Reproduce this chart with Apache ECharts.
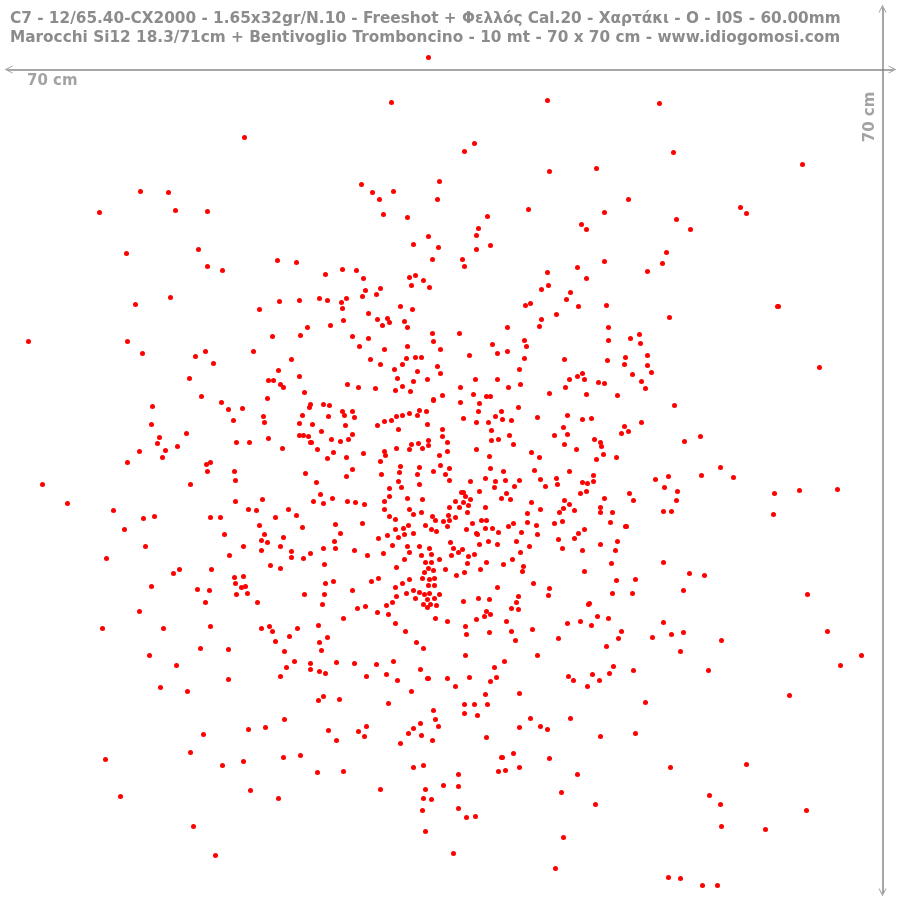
<!DOCTYPE html>
<html><head><meta charset="utf-8">
<style>html,body{margin:0;padding:0;background:#fff}#c{width:900px;height:900px}</style>
<script src="https://cdn.jsdelivr.net/npm/echarts@6/dist/echarts.min.js"></script>
</head><body><div id="c"></div>
<script>
const titleLine1 = "C7 - 12/65.40-CX2000 - 1.65x32gr/N.10 - Freeshot + Φελλός Cal.20 - Χαρτάκι - O - I0S - 60.00mm";
const titleLine2 = "Marocchi Si12 18.3/71cm + Bentivoglio Tromboncino - 10 mt - 70 x 70 cm - www.idiogomosi.com";
const widthLabel = "70 cm";
const heightLabel = "70 cm";
const shotsTop = [[428,57],[244,137],[391,102],[547,100],[659,103],[474,143],[464,151],[673,152],[802,164],[549,171],[596,168]];
const shotsUpperLeft = [[140,191],[168,192],[99,212],[175,210],[207,211],[126,253],[198,249],[207,266],[222,270],[277,260],[296,262],[170,297],[135,304],[259,309],[279,301],[299,300],[272,336],[300,335],[28,341],[127,341],[142,353],[205,351],[195,356],[253,351],[213,363],[291,359],[278,370],[189,378],[268,380],[273,380],[280,384],[283,387],[299,376],[201,396],[267,398]];
const shotsUpperCentre = [[439,181],[361,184],[372,192],[393,191],[379,199],[437,199],[383,214],[407,217],[487,216],[528,209],[581,224],[586,229],[478,228],[476,235],[428,236],[413,244],[438,247],[490,245],[476,249],[432,259],[462,259],[464,266],[325,274],[342,269],[356,270],[363,278],[409,277],[415,275],[423,280],[411,285],[429,287],[380,288],[365,290],[376,294],[362,296],[577,267],[586,278],[547,272],[548,285],[541,289],[570,292],[566,299],[530,303],[525,305],[578,306],[319,298],[327,300],[346,298],[341,302],[342,308],[400,306],[412,309],[368,313],[377,319],[387,318],[389,322],[382,325],[404,321],[407,327],[343,320],[330,325],[307,327],[556,314],[541,319],[539,326],[507,327],[432,333],[459,333],[433,341],[352,336],[368,338],[359,346],[407,346],[384,349],[440,349],[492,344],[524,340],[526,346],[497,353],[507,351],[524,358],[469,355],[370,359],[406,358],[415,357],[421,357],[380,364],[402,364],[394,369],[417,371],[437,366],[440,373],[564,359],[519,369],[397,378],[413,381],[427,379],[475,379],[497,379],[569,379],[577,376],[582,373],[584,379],[598,382],[347,384],[358,387],[375,388],[402,386],[395,390],[410,391],[460,387],[508,387],[520,384],[565,387],[304,392],[442,395],[473,394],[486,396],[490,396],[549,393],[586,394],[433,399]];
const shotsUpperRight = [[628,199],[604,212],[740,207],[746,213],[676,219],[690,229],[666,252],[662,263],[604,261],[647,271],[606,305],[777,306],[778,306],[669,317],[608,327],[608,340],[639,334],[630,338],[640,343],[647,355],[625,357],[607,360],[624,364],[647,365],[651,372],[632,374],[819,367],[641,381],[645,388],[604,383],[617,395]];
const shotsMiddleLeft = [[152,406],[221,402],[228,409],[242,408],[263,416],[264,422],[233,420],[299,423],[151,424],[186,433],[159,437],[157,443],[177,446],[165,450],[139,451],[162,457],[127,462],[236,442],[249,442],[268,438],[282,448],[299,435],[210,462],[206,464],[207,471],[234,471],[235,480],[190,484],[42,484],[67,503],[235,501],[262,499],[248,509],[256,510],[288,509],[296,515],[275,517],[113,510],[143,518],[154,516],[210,517],[220,517],[124,529],[259,525],[224,534],[264,534],[283,537],[261,540],[267,542],[145,546],[243,546],[280,546],[261,550],[291,551],[291,557],[106,558],[229,555],[270,565],[280,568],[179,569],[173,573],[211,569],[243,576],[234,577],[235,583],[241,587],[245,586],[151,586],[197,589],[209,590],[236,594],[247,593],[205,602],[257,602],[139,611],[102,628],[163,628],[210,626],[261,628],[269,626],[272,631],[297,628],[289,636],[275,641],[200,648],[228,649],[284,651],[149,655],[294,661],[176,665],[286,667],[280,676],[228,679],[160,687],[187,691]];
const shotsMiddleCentreLeft = [[310,404],[309,407],[323,404],[329,405],[342,411],[344,415],[352,411],[354,417],[302,415],[328,416],[312,424],[345,425],[321,431],[352,434],[348,439],[340,441],[331,439],[308,436],[303,435],[310,442],[311,442],[317,449],[333,452],[327,458],[346,457],[363,453],[352,469],[305,473],[346,476],[316,482],[320,494],[332,498],[313,501],[323,503],[347,501],[355,502],[364,504],[302,527],[335,524],[362,523],[340,533],[334,541],[335,548],[323,548],[354,550],[310,553],[303,558],[367,555],[324,564],[333,581],[325,583],[304,594],[324,594],[352,590],[322,604],[365,606],[357,608],[377,612],[343,618],[318,625],[327,637],[319,642],[321,650],[310,663],[310,669],[319,671],[325,673],[336,662],[354,663],[376,664],[393,661],[366,676],[386,674],[397,680],[420,669],[427,678],[428,678],[447,678],[411,691],[323,696],[339,699],[318,700]];
const shotsMiddleCentre = [[377,425],[384,421],[391,420],[396,416],[402,415],[409,413],[417,415],[419,410],[426,411],[427,424],[398,429],[442,429],[442,436],[428,440],[428,445],[418,443],[411,444],[409,449],[422,448],[396,448],[447,442],[447,451],[439,455],[384,451],[385,455],[380,461],[400,466],[399,472],[381,474],[419,467],[417,474],[433,471],[440,465],[449,468],[445,474],[449,480],[398,481],[419,484],[401,487],[389,488],[389,496],[384,501],[407,498],[422,499],[384,509],[409,509],[413,514],[421,512],[389,516],[395,519],[432,516],[435,520],[448,515],[449,507],[459,507],[455,501],[463,502],[468,505],[467,512],[470,499],[465,496],[461,492],[463,492],[449,520],[455,517],[443,521],[447,526],[425,525],[408,525],[403,528],[395,529],[431,529],[436,531],[413,533],[404,534],[398,537],[387,535],[378,538],[392,545],[407,546],[419,546],[429,548],[409,552],[383,553],[421,555],[431,554],[404,559],[439,559],[425,562],[431,562],[396,567],[428,568],[433,570],[424,572],[445,569],[422,578],[429,579],[434,578],[409,579],[402,583],[378,578],[371,581],[395,587],[428,585],[434,585],[413,590],[419,592],[406,593],[424,594],[429,593],[439,594],[396,596],[415,598],[427,599],[434,598],[392,602],[386,605],[423,604],[430,604],[436,605],[427,607],[388,614],[435,618],[447,621],[395,623],[405,631],[416,642],[423,648]];
const shotsMiddleCentreRight = [[433,400],[460,402],[479,403],[463,418],[476,422],[478,411],[488,422],[495,416],[501,411],[502,419],[511,420],[518,407],[537,417],[567,415],[582,419],[591,418],[563,427],[567,434],[554,435],[594,439],[564,444],[600,442],[576,449],[491,430],[491,440],[498,439],[509,435],[513,444],[476,449],[531,452],[539,457],[489,456],[596,459],[490,468],[503,471],[534,470],[569,471],[485,478],[495,481],[505,480],[519,480],[470,481],[540,479],[556,478],[593,475],[593,481],[582,482],[587,483],[557,484],[514,486],[494,487],[545,486],[479,491],[586,491],[580,493],[506,493],[501,498],[510,499],[531,502],[564,500],[569,504],[485,507],[540,509],[563,508],[574,510],[559,512],[600,507],[600,512],[527,513],[481,520],[486,520],[527,522],[562,521],[554,523],[472,523],[513,523],[508,526],[536,525],[485,528],[492,528],[466,529],[584,529],[521,532],[498,532],[578,533],[537,534],[476,533],[477,534],[574,538],[558,539],[516,541],[488,541],[450,542],[479,544],[497,544],[529,546],[562,548],[600,544],[582,550],[453,548],[462,549],[458,552],[520,552],[474,554],[468,556],[451,555],[512,559],[467,563],[486,562],[503,564],[523,566],[522,571],[480,569],[464,572],[456,575],[584,571],[533,583],[497,587],[549,588],[548,595],[518,596],[463,601],[478,598],[489,599],[516,602],[589,603],[588,604],[511,608],[518,609],[486,611],[490,614],[484,616],[476,619],[506,621],[567,623],[580,621],[591,625],[597,616],[465,626],[466,634],[489,632],[511,631],[532,629],[515,640],[558,638],[465,655],[537,655],[504,661],[494,667],[469,677],[496,677],[490,681],[455,686],[568,676],[573,680],[592,674],[587,686],[599,680],[485,694],[519,693]];
const shotsMiddleRight = [[674,405],[641,422],[624,426],[628,431],[621,433],[700,436],[684,441],[601,446],[603,454],[616,457],[720,467],[733,477],[701,475],[668,476],[655,479],[664,487],[677,491],[629,493],[676,500],[633,500],[604,498],[774,493],[799,490],[837,489],[663,511],[671,511],[612,512],[773,514],[610,522],[625,526],[626,526],[617,541],[615,550],[611,563],[663,562],[689,573],[704,575],[635,579],[616,580],[683,590],[612,593],[632,593],[807,594],[608,618],[663,622],[621,631],[683,632],[671,634],[652,637],[618,638],[721,640],[606,646],[680,651],[827,631],[861,655],[840,665],[613,666],[633,670],[708,670],[609,673],[789,695]];
const shotsBottomLeft = [[284,719],[265,727],[248,729],[203,734],[190,752],[105,759],[243,761],[222,765],[283,757],[300,755],[250,790],[278,798],[120,796],[193,826],[215,855]];
const shotsBottomCentre = [[388,703],[433,710],[464,704],[474,704],[487,704],[464,713],[477,715],[435,719],[420,723],[438,726],[413,728],[408,733],[421,735],[432,740],[400,743],[366,726],[358,731],[364,736],[328,730],[336,740],[519,727],[530,718],[540,726],[547,729],[570,718],[486,737],[600,736],[513,753],[501,757],[502,757],[549,758],[317,772],[343,771],[413,767],[423,765],[498,771],[505,770],[519,767],[458,774],[577,774],[458,786],[443,785],[380,789],[425,789],[561,792],[423,798],[431,799],[595,804],[458,808],[422,810],[466,817],[475,816],[425,831],[563,837],[453,853],[555,868]];
const shotsBottomRight = [[645,702],[635,733],[670,767],[746,764],[709,795],[720,804],[721,826],[806,810],[765,829],[668,877],[680,878],[702,885],[717,885]];
const shots = [].concat(shotsTop, shotsUpperLeft, shotsUpperCentre, shotsUpperRight, shotsMiddleLeft, shotsMiddleCentreLeft, shotsMiddleCentre, shotsMiddleCentreRight, shotsMiddleRight, shotsBottomLeft, shotsBottomCentre, shotsBottomRight);

const arrowHead = 'path://M50,0 L100,100 L86,100 L62,52 L38,52 L14,100 L0,100 Z';
const guideStyle = {color:'rgba(120,120,120,0.65)', width:2, type:'solid'};
const chart = echarts.init(document.getElementById('c'), null, {renderer:'canvas'});
chart.setOption({
  animation:false,
  backgroundColor:'#ffffff',
  title:{text:titleLine1+"\n"+titleLine2, left:5, top:5,
    textStyle:{fontFamily:'DejaVu Sans', fontWeight:'bold', fontSize:15.3, lineHeight:19, color:'#8c8c8c'}},
  grid:{left:0, right:0, top:0, bottom:0},
  xAxis:{type:'value', min:-0.5, max:899.5, show:false},
  yAxis:{type:'value', min:-0.5, max:899.5, inverse:true, show:false},
  series:[{
    type:'scatter', data:shots, symbol:'circle', symbolSize:5,
    itemStyle:{color:'#ff0000', opacity:1}, silent:true,
    markLine:{silent:true, symbol:[arrowHead,arrowHead], symbolSize:[8,8], label:{show:false},
      lineStyle:guideStyle, animation:false,
      data:[
        [{coord:[8,69]},{coord:[892,69]}],
        [{coord:[882,8]},{coord:[882,892]}]
      ]}
  }],
  graphic:[
    {type:'text', left:27, top:74, style:{text:widthLabel, font:'bold 15px "DejaVu Sans"', fill:'#a3a3a3'}},
    {type:'text', x:870, y:117, rotation:Math.PI/2, originX:0, originY:0, style:{text:heightLabel, font:'bold 15px "DejaVu Sans"', fill:'#a3a3a3', align:'center', verticalAlign:'middle'}}
  ]
});
</script></body></html>
